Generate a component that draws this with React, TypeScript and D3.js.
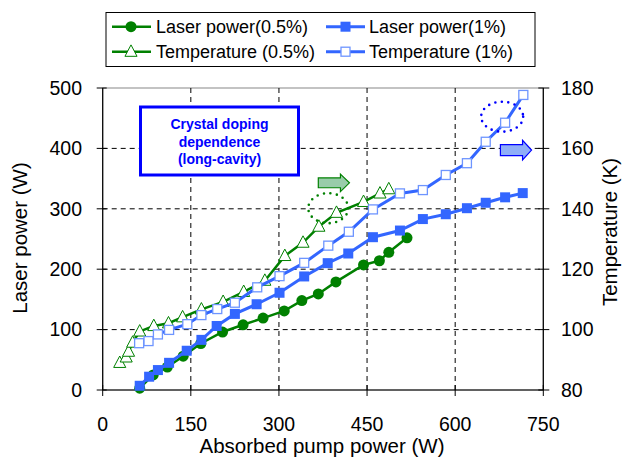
import React from "react";
import * as d3 from "d3";

const xTicks = [0, 150, 300, 450, 600, 750];
const yLeftTicks = [0, 100, 200, 300, 400, 500];
const yRightTicks = [80, 100, 120, 140, 160, 180];

// Laser power (0.5%) – left axis
const lp05X = [63, 86, 110, 137, 167, 204, 239, 273, 309, 339, 367, 397, 444, 471, 487, 518];
const lp05Y = [3, 25, 38, 56, 77, 96, 108, 119, 131, 148, 159, 179, 207, 214, 228, 252];

// Laser power (1%) – left axis
const lp1X = [63, 79, 94, 113, 143, 168, 194, 225, 262, 301, 343, 383, 418, 460, 506, 545, 584, 620, 652, 685, 715];
const lp1Y = [7, 22, 33, 45, 65, 83, 106, 126, 142, 161, 188, 210, 226, 253, 264, 283, 291, 301, 310, 319, 326];

// Temperature (0.5%) – right axis
const t05X = [29, 40, 44, 51, 63, 87, 112, 136, 168, 205, 240, 276, 310, 341, 368, 398, 444, 472, 487];
const t05Y = [89.0, 90.8, 92.7, 95.7, 99.4, 101.2, 102.1, 104.1, 106.7, 109.2, 112.5, 116.2, 124.4, 128.8, 134.1, 138.7, 142.3, 145.1, 146.5];

// Temperature (1%) – right axis
const t1X = [62, 78, 94, 113, 144, 168, 195, 225, 263, 301, 343, 384, 419, 460, 506, 545, 584, 620, 652, 685, 716];
const t1Y = [95.5, 96.2, 98.4, 99.9, 101.8, 104.8, 106.8, 108.9, 114.0, 117.7, 122.1, 127.8, 132.4, 139.8, 145.1, 146.2, 151.2, 155.1, 162.2, 168.5, 177.7];

const GREEN = "#008000";
const BLUE = "#3366FF";
const BLUE_OPEN = "#6E95FF";
const FONT = "Liberation Sans, Arial, sans-serif";

const W = 623;
const H = 459;
const L = 102.7, R = 543.3, T = 88, B = 390;

export default function App() {
  const x = d3.scaleLinear().domain([0, 750]).range([L, R]);
  const yL = d3.scaleLinear().domain([0, 500]).range([B, T]);
  const yR = d3.scaleLinear().domain([80, 180]).range([B, T]);

  const lineL = d3.line<[number, number]>().x(d => x(d[0])).y(d => yL(d[1]));
  const lineR = d3.line<[number, number]>().x(d => x(d[0])).y(d => yR(d[1]));

  const zip = (a: number[], b: number[]) => a.map((v, i) => [v, b[i]] as [number, number]);
  const lp05 = zip(lp05X, lp05Y);
  const lp1 = zip(lp1X, lp1Y);
  const t05 = zip(t05X, t05Y);
  const t1 = zip(t1X, t1Y);

  const tri = (cx: number, cy: number, s: number) =>
    `M${cx},${cy - s * 0.62} L${cx + s * 0.55},${cy + s * 0.42} L${cx - s * 0.55},${cy + s * 0.42} Z`;

  const arrow = (x0: number, y0: number, x1: number, y1: number) => {
    const h = y1 - y0;
    const hx = x1 - 9;
    return `M${x0},${y0 + h * 0.22} L${hx},${y0 + h * 0.22} L${hx},${y0} L${x1},${y0 + h / 2} L${hx},${y1} L${hx},${y1 - h * 0.22} L${x0},${y1 - h * 0.22} Z`;
  };

  return (
    <svg width={W} height={H} style={{ position: "absolute", left: 0, top: 0, background: "#fff" }} fontFamily={FONT}>
      <rect x={0} y={0} width={W} height={H} fill="#fff" />
      {/* plot border */}
      <rect x={L} y={T} width={R - L} height={B - T} fill="none" stroke="#888" strokeWidth={1} />
      {/* grid */}
      {xTicks.slice(1, -1).map(t => (
        <line key={"gx" + t} x1={x(t)} x2={x(t)} y1={T} y2={B} stroke="#000" strokeWidth={1} strokeDasharray="5,4" />
      ))}
      {yLeftTicks.slice(1, -1).map(t => (
        <line key={"gy" + t} x1={L} x2={R} y1={yL(t)} y2={yL(t)} stroke="#000" strokeWidth={1} strokeDasharray="5,4" />
      ))}

      {/* annotation box */}
      <rect x={140.5} y={107} width={158} height={68} fill="#fff" stroke="#0000FF" strokeWidth={3} />
      <g fill="#0000FF" fontWeight="bold" fontSize={14} textAnchor="middle">
        <text x={219.5} y={129}>Crystal doping</text>
        <text x={219.5} y={146.5}>dependence</text>
        <text x={219.5} y={164}>(long-cavity)</text>
      </g>

      {/* axes */}
      <line x1={L} x2={L} y1={T} y2={B} stroke="#000" strokeWidth={1.2} />
      <line x1={R} x2={R} y1={T} y2={B} stroke="#000" strokeWidth={1.2} />
      <line x1={L} x2={R} y1={B} y2={B} stroke="#000" strokeWidth={1.2} />
      {yLeftTicks.map(t => (
        <g key={"yl" + t}>
          <line x1={L - 6} x2={L + 4} y1={yL(t)} y2={yL(t)} stroke="#000" />
          <text x={82} y={yL(t)} dy="0.35em" textAnchor="end" fontSize={19.5} fill="#000">{t}</text>
        </g>
      ))}
      {yRightTicks.map(t => (
        <g key={"yr" + t}>
          <line x1={R - 5} x2={R + 6} y1={yR(t)} y2={yR(t)} stroke="#000" />
          <text x={561} y={yR(t)} dy="0.35em" textAnchor="start" fontSize={19.5} fill="#000">{t}</text>
        </g>
      ))}
      {xTicks.map(t => (
        <g key={"xt" + t}>
          <line x1={x(t)} x2={x(t)} y1={B - 5} y2={B + 6} stroke="#000" />
          <text x={x(t)} y={431} textAnchor="middle" fontSize={19.5} fill="#000">{t}</text>
        </g>
      ))}
      <text x={322} y={453} textAnchor="middle" fontSize={20.5} fill="#000">Absorbed pump power (W)</text>
      <text transform={`translate(27,238) rotate(-90)`} textAnchor="middle" fontSize={20.5} fill="#000">Laser power (W)</text>
      <text transform={`translate(603,232) rotate(-90)`} textAnchor="middle" fontSize={20.5} fill="#000" dy="0.7em">Temperature (K)</text>

      {/* series: Laser power 0.5% */}
      <path d={lineL(lp05) || ""} fill="none" stroke={GREEN} strokeWidth={2.5} />
      {lp05.map((d, i) => (
        <circle key={"c" + i} cx={x(d[0])} cy={yL(d[1])} r={5.5} fill={GREEN} />
      ))}
      {/* Laser power 1% */}
      <path d={lineL(lp1) || ""} fill="none" stroke={BLUE} strokeWidth={3} />
      {lp1.map((d, i) => (
        <rect key={"s" + i} x={x(d[0]) - 5} y={yL(d[1]) - 5} width={10} height={10} fill={BLUE} />
      ))}
      {/* Temperature 0.5% */}
      <path d={lineR(t05) || ""} fill="none" stroke={GREEN} strokeWidth={2.5} />
      {t05.map((d, i) => (
        <path key={"t" + i} d={tri(x(d[0]), yR(d[1]), 11)} fill="#fff" stroke={GREEN} strokeWidth={1} />
      ))}
      {/* Temperature 1% */}
      <path d={lineR(t1) || ""} fill="none" stroke={BLUE} strokeWidth={3} />
      {t1.map((d, i) => (
        <rect key={"o" + i} x={x(d[0]) - 4.5} y={yR(d[1]) - 4.5} width={9} height={9} fill="#fff" stroke={BLUE_OPEN} strokeWidth={1.3} />
      ))}

      {/* annotations */}
      <ellipse cx={x(384)} cy={yR(140.2)} rx={20} ry={15} fill="none" stroke={GREEN} strokeWidth={2.6} strokeDasharray="0,6.5" strokeLinecap="round" />
      <path d={arrow(x(367), yR(151.5), x(420), yR(145.7))} fill="#99CCAA" stroke={GREEN} strokeWidth={1.2} />
      <ellipse cx={x(680)} cy={yR(170.5)} rx={21} ry={15} fill="none" stroke="#0000FF" strokeWidth={2.6} strokeDasharray="0,6.5" strokeLinecap="round" />
      <path d={arrow(x(677), yR(162.7), x(730), yR(156.2))} fill="#8FAEF8" stroke="#0000FF" strokeWidth={1.2} />

      {/* legend */}
      <rect x={106} y={12.5} width={429} height={54} fill="#fff" stroke="#000" strokeWidth={1} />
      <g fontSize={18} fill="#000">
        <line x1={112} x2={151} y1={26.7} y2={26.7} stroke={GREEN} strokeWidth={2.5} />
        <circle cx={131} cy={26.7} r={5.5} fill={GREEN} />
        <text x={156} y={26.7} dy="0.35em">Laser power(0.5%)</text>
        <line x1={326} x2={365} y1={26.7} y2={26.7} stroke={BLUE} strokeWidth={3} />
        <rect x={340.5} y={21.7} width={10} height={10} fill={BLUE} />
        <text x={369} y={26.7} dy="0.35em">Laser power(1%)</text>
        <line x1={112} x2={151} y1={51.7} y2={51.7} stroke={GREEN} strokeWidth={2.5} />
        <path d={tri(131, 51.7, 11)} fill="#fff" stroke={GREEN} strokeWidth={1} />
        <text x={156} y={51.7} dy="0.35em">Temperature (0.5%)</text>
        <line x1={326} x2={365} y1={51.7} y2={51.7} stroke={BLUE} strokeWidth={3} />
        <rect x={341} y={47.2} width={9} height={9} fill="#fff" stroke={BLUE_OPEN} strokeWidth={1.3} />
        <text x={369} y={51.7} dy="0.35em">Temperature (1%)</text>
      </g>
    </svg>
  );
}
